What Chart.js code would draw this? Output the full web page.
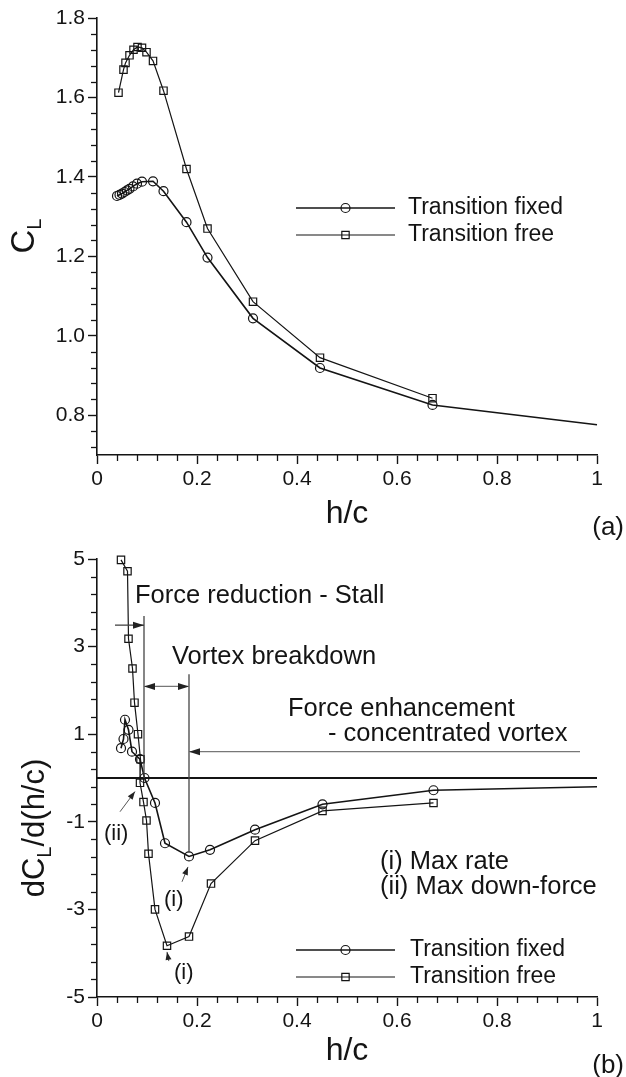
<!DOCTYPE html>
<html><head><meta charset="utf-8">
<script src="https://cdn.jsdelivr.net/npm/chart.js@4"></script>
<style>
html,body{margin:0;padding:0;background:#fff;}
#wrap{position:relative;width:626px;height:1077px;overflow:hidden;background:#fff;}
canvas{position:absolute;left:0;}
</style></head><body>
<div id="wrap">
<canvas id="ca" width="626" height="540" style="top:0"></canvas>
<canvas id="cb" width="626" height="537" style="top:540px"></canvas>
</div>
<script>
// ---------- DATA ----------
// (a) lift coefficient vs ride height
const hcFixedA  = [0.040,0.045,0.050,0.055,0.060,0.065,0.072,0.080,0.090,0.112,0.133,0.179,0.221,0.312,0.446,0.671,1.000];
const clFixedA  = [1.352,1.355,1.358,1.362,1.366,1.370,1.376,1.383,1.388,1.389,1.364,1.286,1.197,1.044,0.919,0.826,0.776];
const hcFreeA   = [0.043,0.053,0.057,0.065,0.073,0.081,0.090,0.099,0.112,0.133,0.179,0.221,0.312,0.446,0.671];
const clFreeA   = [1.612,1.670,1.687,1.706,1.720,1.727,1.725,1.714,1.692,1.617,1.420,1.270,1.086,0.945,0.843];
// (b) derivative dCL/d(h/c)
const hcFixedB  = [0.048,0.053,0.056,0.063,0.070,0.086,0.095,0.116,0.136,0.184,0.226,0.316,0.451,0.673,1.000];
const dclFixedB = [0.68,0.89,1.33,1.10,0.60,0.43,0.00,-0.57,-1.49,-1.79,-1.64,-1.18,-0.60,-0.28,-0.20];
const hcFreeB   = [0.048,0.061,0.063,0.071,0.075,0.082,0.087,0.086,0.093,0.099,0.103,0.116,0.140,0.184,0.228,0.316,0.451,0.673];
const dclFreeB  = [4.98,4.72,3.18,2.50,1.72,1.00,0.43,-0.11,-0.55,-0.97,-1.73,-3.00,-3.83,-3.62,-2.41,-1.43,-0.75,-0.57];
const zeroLineX = [0, 1];
const zeroLineY = [0, 0];

const seriesNames = ['Transition fixed', 'Transition free'];

// tick values / labels
const xMajorTicks  = [0, 0.2, 0.4, 0.6, 0.8, 1];
const xTickLabels  = ['0', '0.2', '0.4', '0.6', '0.8', '1'];
const yMajorTicksA = [0.8, 1.0, 1.2, 1.4, 1.6, 1.8];
const yTickLabelsA = ['0.8', '1.0', '1.2', '1.4', '1.6', '1.8'];
const yMajorTicksB = [-5, -3, -1, 1, 3, 5];
const yTickLabelsB = ['-5', '-3', '-1', '1', '3', '5'];

// annotation geometry in data units (panel b)
const regionLineX   = [0.094, 0.184];          // vertical separators
const regionLineTop = [3.70, 2.37];
const regionLineBot = [0.00, -1.70];
const stallArrow    = {x0: 0.036, x1: 0.094, y: 3.49};
const vortexArrow   = {x0: 0.094, x1: 0.184, y: 2.09};
const enhArrow      = {x0: 0.184, x1: 0.966, y: 0.60};

// ---------- STYLE ----------
const FONT = "'Liberation Sans', Arial, Helvetica, sans-serif";
const INK = '#141414';
Chart.defaults.font.family = FONT;
Chart.defaults.color = INK;

const r4 = v => Math.round(v * 1000) / 1000;
function tickSet(min, max, anchor, step) {
  const out = [];
  const kMin = Math.ceil((min - anchor) / step - 1e-6);
  const kMax = Math.floor((max - anchor) / step + 1e-6);
  for (let k = kMin; k <= kMax; k++) out.push(r4(anchor + k * step));
  return out;
}
function isMajor(v, majors) { return majors.some(m => Math.abs(m - v) < 1e-6); }

function makeScale(axis, min, max, minorStep, majors, labels, fitSize) {
  return {
    type: 'linear', min, max,
    afterBuildTicks: s => { s.ticks = tickSet(min, max, majors[0], minorStep).map(v => ({value: v})); },
    afterFit: s => { if (axis === 'x') s.height = fitSize; else s.width = fitSize; },
    border: {display: true, color: INK, width: 1.6},
    grid: {
      display: true, drawOnChartArea: false, drawTicks: true, tickLength: 9, tickWidth: 1.4,
      tickColor: c => (c.tick && isMajor(c.tick.value, majors)) ? INK : 'rgba(0,0,0,0)'
    },
    ticks: {
      autoSkip: false, maxRotation: 0, minRotation: 0, padding: 3,
      font: {size: 21, family: FONT}, color: INK,
      callback: v => { const i = majors.findIndex(m => Math.abs(m - v) < 1e-6); return i >= 0 ? labels[i] : ''; }
    }
  };
}

const minorTickPlugin = {
  id: 'minorTicks',
  afterDraw(chart) {
    const ctx = chart.ctx;
    ctx.save();
    ctx.strokeStyle = INK; ctx.lineWidth = 1.3;
    const xs = chart.scales.x, ys = chart.scales.y;
    const xm = chart.options.plugins.minorTicks.xMajors, ym = chart.options.plugins.minorTicks.yMajors;
    xs.ticks.forEach(t => {
      if (isMajor(t.value, xm)) return;
      const px = Math.round(xs.getPixelForValue(t.value)) + 0.5;
      ctx.beginPath(); ctx.moveTo(px, xs.top); ctx.lineTo(px, xs.top + 6); ctx.stroke();
    });
    ys.ticks.forEach(t => {
      if (isMajor(t.value, ym)) return;
      const py = Math.round(ys.getPixelForValue(t.value)) + 0.5;
      ctx.beginPath(); ctx.moveTo(ys.right, py); ctx.lineTo(ys.right - 6, py); ctx.stroke();
    });
    ctx.restore();
  }
};

function drawMarker(ctx, style, x, y, r) {
  ctx.beginPath();
  if (style === 'circle') ctx.arc(x, y, r, 0, Math.PI * 2);
  else { const s = Math.SQRT1_2 * r; ctx.rect(x - s, y - s, 2 * s, 2 * s); }
  ctx.stroke();
}

const legendPlugin = {
  id: 'customLegend',
  afterDraw(chart) {
    const o = chart.options.plugins.customLegend;
    const ctx = chart.ctx;
    ctx.save();
    [0, 1].forEach(i => {
      const ds = chart.data.datasets[i];
      const y = o.y[i];
      ctx.strokeStyle = ds.borderColor; ctx.lineWidth = ds.borderWidth;
      ctx.beginPath(); ctx.moveTo(o.x1, y); ctx.lineTo(o.x2, y); ctx.stroke();
      ctx.lineWidth = 1.2;
      drawMarker(ctx, ds.pointStyle, (o.x1 + o.x2) / 2, y, ds.markerSize);
      ctx.fillStyle = INK;
      ctx.font = `${o.size}px ${FONT}`;
      ctx.textBaseline = 'middle'; ctx.textAlign = 'left';
      ctx.fillText(seriesNames[i], o.textX, y);
    });
    ctx.restore();
  }
};

const titlePlugin = {
  id: 'titles',
  afterDraw(chart) {
    const o = chart.options.plugins.titles;
    const ctx = chart.ctx;
    ctx.save();
    ctx.fillStyle = INK;
    ctx.font = `32px ${FONT}`; ctx.textAlign = 'center'; ctx.textBaseline = 'alphabetic';
    ctx.fillText('h/c', (chart.chartArea.left + chart.chartArea.right) / 2, o.xTitleY);
    ctx.font = `26px ${FONT}`; ctx.textAlign = 'right';
    ctx.fillText(o.tag, 624, o.tagY);
    const parts = o.yParts;
    ctx.translate(o.yTitleX, o.yTitleY);
    ctx.rotate(-Math.PI / 2);
    let total = 0;
    parts.forEach(p => { ctx.font = `${p[1] ? o.subSize : o.ySize}px ${FONT}`; total += ctx.measureText(p[0]).width; });
    let x = -total / 2;
    ctx.textAlign = 'left';
    parts.forEach(p => {
      ctx.font = `${p[1] ? o.subSize : o.ySize}px ${FONT}`;
      ctx.fillText(p[0], x, p[1] ? o.subDrop : 0);
      x += ctx.measureText(p[0]).width;
    });
    ctx.restore();
  }
};

function arrowHead(ctx, x, y, dir, len, half) {
  ctx.beginPath();
  ctx.moveTo(x, y);
  ctx.lineTo(x - dir * len, y - half);
  ctx.lineTo(x - dir * len, y + half);
  ctx.closePath(); ctx.fill();
}
function slantArrow(ctx, x0, y0, x1, y1) {
  ctx.beginPath(); ctx.moveTo(x0, y0); ctx.lineTo(x1, y1); ctx.stroke();
  const a = Math.atan2(y1 - y0, x1 - x0), L = 8, H = 3;
  ctx.beginPath();
  ctx.moveTo(x1, y1);
  ctx.lineTo(x1 - L * Math.cos(a) + H * Math.sin(a), y1 - L * Math.sin(a) - H * Math.cos(a));
  ctx.lineTo(x1 - L * Math.cos(a) - H * Math.sin(a), y1 - L * Math.sin(a) + H * Math.cos(a));
  ctx.closePath(); ctx.fill();
}

const annotPlugin = {
  id: 'annot',
  afterDatasetsDraw(chart) {
    const ctx = chart.ctx, xs = chart.scales.x, ys = chart.scales.y;
    const X = v => xs.getPixelForValue(v), Y = v => ys.getPixelForValue(v);
    ctx.save();
    ctx.strokeStyle = '#444'; ctx.fillStyle = '#222'; ctx.lineWidth = 1.3;
    regionLineX.forEach((hx, i) => {
      ctx.beginPath(); ctx.moveTo(X(hx), Y(regionLineTop[i])); ctx.lineTo(X(hx), Y(regionLineBot[i])); ctx.stroke();
    });
    ctx.beginPath(); ctx.moveTo(X(stallArrow.x0), Y(stallArrow.y)); ctx.lineTo(X(stallArrow.x1), Y(stallArrow.y)); ctx.stroke();
    arrowHead(ctx, X(stallArrow.x1), Y(stallArrow.y), 1, 11, 3.5);
    ctx.strokeStyle = '#777';
    ctx.beginPath(); ctx.moveTo(X(vortexArrow.x0), Y(vortexArrow.y)); ctx.lineTo(X(vortexArrow.x1), Y(vortexArrow.y)); ctx.stroke();
    arrowHead(ctx, X(vortexArrow.x0), Y(vortexArrow.y), -1, 11, 3.5);
    arrowHead(ctx, X(vortexArrow.x1), Y(vortexArrow.y), 1, 11, 3.5);
    ctx.beginPath(); ctx.moveTo(X(enhArrow.x0), Y(enhArrow.y)); ctx.lineTo(X(enhArrow.x1), Y(enhArrow.y)); ctx.stroke();
    arrowHead(ctx, X(enhArrow.x0), Y(enhArrow.y), -1, 11, 3.5);
    ctx.strokeStyle = '#555'; ctx.lineWidth = 1;
    slantArrow(ctx, X(0.046), Y(-0.77), X(0.076), Y(-0.31));
    slantArrow(ctx, X(0.170), Y(-2.37), X(0.182), Y(-2.03));
    slantArrow(ctx, X(0.1436), Y(-4.18), X(0.140), Y(-3.97));
    ctx.fillStyle = INK;
    ctx.textBaseline = 'middle'; ctx.textAlign = 'left';
    ctx.font = `25.5px ${FONT}`;
    ctx.fillText('Force reduction - Stall', 135, 56);
    ctx.fillText('Vortex breakdown', 172, 117);
    ctx.fillText('Force enhancement', 288, 169);
    ctx.fillText('- concentrated vortex', 328, 194);
    ctx.fillText('(i) Max rate', 380, 322);
    ctx.fillText('(ii) Max down-force', 380, 347);
    ctx.font = `22px ${FONT}`;
    ctx.fillText('(ii)', 104, 294);
    ctx.fillText('(i)', 164, 360);
    ctx.fillText('(i)', 174, 433);
    ctx.restore();
  }
};

function lineDS(xs, ys, style, radius, width, lastNoMarker) {
  return {
    data: xs.map((x, i) => ({x, y: ys[i]})),
    borderColor: INK, backgroundColor: 'rgba(0,0,0,0)',
    borderWidth: width, pointStyle: style, markerSize: radius,
    pointRadius: lastNoMarker ? xs.map((_, i) => i === xs.length - 1 ? 0 : radius) : radius,
    pointBorderWidth: 1.2, pointBorderColor: INK, pointBackgroundColor: 'rgba(0,0,0,0)',
    tension: 0, clip: false, fill: false
  };
}

// ---------- CHART A ----------
new Chart(document.getElementById('ca'), {
  type: 'line',
  data: {datasets: [
    lineDS(hcFixedA, clFixedA, 'circle', 4.5, 1.6, true),
    lineDS(hcFreeA, clFreeA, 'rect', 5.2, 1.2, false)
  ]},
  options: {
    responsive: false, animation: false, devicePixelRatio: 1,
    layout: {padding: {left: 0, right: 29, top: 18, bottom: 0}},
    scales: {
      x: makeScale('x', 0, 1, 0.04, xMajorTicks, xTickLabels, 85),
      y: makeScale('y', 0.7, 1.8, 0.04, yMajorTicksA, yTickLabelsA, 97)
    },
    plugins: {
      legend: {display: false}, tooltip: {enabled: false},
      minorTicks: {xMajors: xMajorTicks, yMajors: yMajorTicksA},
      customLegend: {x1: 296, x2: 395, textX: 408, y: [208, 235], size: 23},
      titles: {xTitleY: 523, tag: '(a)', tagY: 535, yTitleX: 34, yTitleY: 236,
               yParts: [['C', false], ['L', true]], ySize: 33, subSize: 20, subDrop: 7}
    }
  },
  plugins: [minorTickPlugin, legendPlugin, titlePlugin]
});

// ---------- CHART B ----------
const dsZero = {data: zeroLineX.map((x, i) => ({x, y: zeroLineY[i]})), borderColor: INK, borderWidth: 2.2, pointRadius: 0, tension: 0, fill: false};
new Chart(document.getElementById('cb'), {
  type: 'line',
  data: {datasets: [
    lineDS(hcFixedB, dclFixedB, 'circle', 4.5, 1.6, true),
    lineDS(hcFreeB, dclFreeB, 'rect', 5.2, 1.2, false),
    dsZero
  ]},
  options: {
    responsive: false, animation: false, devicePixelRatio: 1,
    layout: {padding: {left: 0, right: 29, top: 19, bottom: 0}},
    scales: {
      x: makeScale('x', 0, 1, 0.04, xMajorTicks, xTickLabels, 80),
      y: makeScale('y', -5, 5, 0.4, yMajorTicksB, yTickLabelsB, 97)
    },
    plugins: {
      legend: {display: false}, tooltip: {enabled: false},
      minorTicks: {xMajors: xMajorTicks, yMajors: yMajorTicksB},
      customLegend: {x1: 296, x2: 395, textX: 410, y: [410, 437], size: 23},
      titles: {xTitleY: 520, tag: '(b)', tagY: 533, yTitleX: 44, yTitleY: 288,
               yParts: [['dC', false], ['L', true], ['/d(h/c)', false]], ySize: 31, subSize: 20, subDrop: 7}
    }
  },
  plugins: [minorTickPlugin, annotPlugin, legendPlugin, titlePlugin]
});
</script>
</body></html>
